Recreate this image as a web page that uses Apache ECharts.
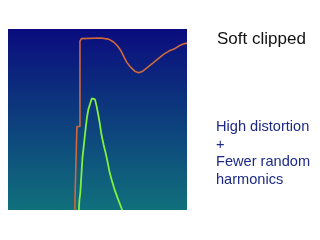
<!DOCTYPE html>
<html><head><meta charset="utf-8">
<script src="https://cdn.jsdelivr.net/npm/echarts@6/dist/echarts.min.js"></script>
<style>html,body{margin:0;padding:0;background:#fff;}#c{width:320px;height:240px;}</style>
</head><body><div id="c"></div>
<script>
// Orange trace (soft clipped waveform), x 0..100, y 0..100
const orangeX = [37.4,37.4,38.5,38.5,40.2,40.2,41.0,42.1,51.7,56.2,59.0,61.2,62.9,64.6,66.3,68.5,70.8,73.0,75.3,78.1,80.9,84.3,87.1,89.9,92.7,95.5,97.8,100];
const orangeY = [0,5.6,5.6,46.1,46.1,93.3,94.7,95,95,94.4,92.8,90.6,88.3,85,81.7,78.9,76.7,75.8,76.7,78.9,81.1,83.9,86.1,87.8,88.9,90.6,91.7,92.2];
// Green trace (harmonic spectrum)
const greenX = [39.6,39.9,40.4,41.0,41.6,42.4,43.3,44.1,44.9,46.1,46.9,47.8,48.6,49.4,50.3,51.1,52.2,53.4,54.5,55.6,56.7,57.9,59.6,61.2,63.8];
const greenY = [0,5.6,9.4,19.4,28.9,36.1,44.4,51.1,55.6,59.4,61.7,62.2,61.1,57.8,53.3,48.9,41.7,36.1,31.7,26.7,21.1,16.7,11.1,6.7,0];
const titleText = 'Soft clipped';
const noteLines = ['High distortion','+','Fewer random','harmonics'];

const zip = (xs, ys) => xs.map((x, i) => [x, ys[i]]);
const chart = echarts.init(document.getElementById('c'), null, {renderer:'canvas'});
chart.setOption({
  animation:false,
  backgroundColor:'#ffffff',
  grid:{left:8, top:29, width:179, height:181, show:true, borderWidth:0,
    backgroundColor:new echarts.graphic.LinearGradient(0,0,0,1,[
      {offset:0,color:'#0a0c7e'},{offset:1,color:'#10707c'}])},
  xAxis:{type:'value', min:0, max:100, show:false},
  yAxis:{type:'value', min:0, max:100, show:false},
  title:[
    {text:titleText, left:217, top:31, padding:0, textStyle:{fontFamily:'Liberation Sans', fontSize:17, fontWeight:'normal', color:'#111111'}},
    {text:noteLines.join('\n'), left:216, top:118, padding:0, textStyle:{fontFamily:'Liberation Sans', fontSize:14.6, fontWeight:'normal', color:'#1c2a86', lineHeight:17.7}}
  ],
  series:[
    {type:'line', data:zip(orangeX, orangeY), showSymbol:false, lineStyle:{color:'#d0683c', width:1.6}},
    {type:'line', data:zip(greenX, greenY), showSymbol:false, lineStyle:{color:'#80f040', width:1.8}}
  ]
});
</script></body></html>
